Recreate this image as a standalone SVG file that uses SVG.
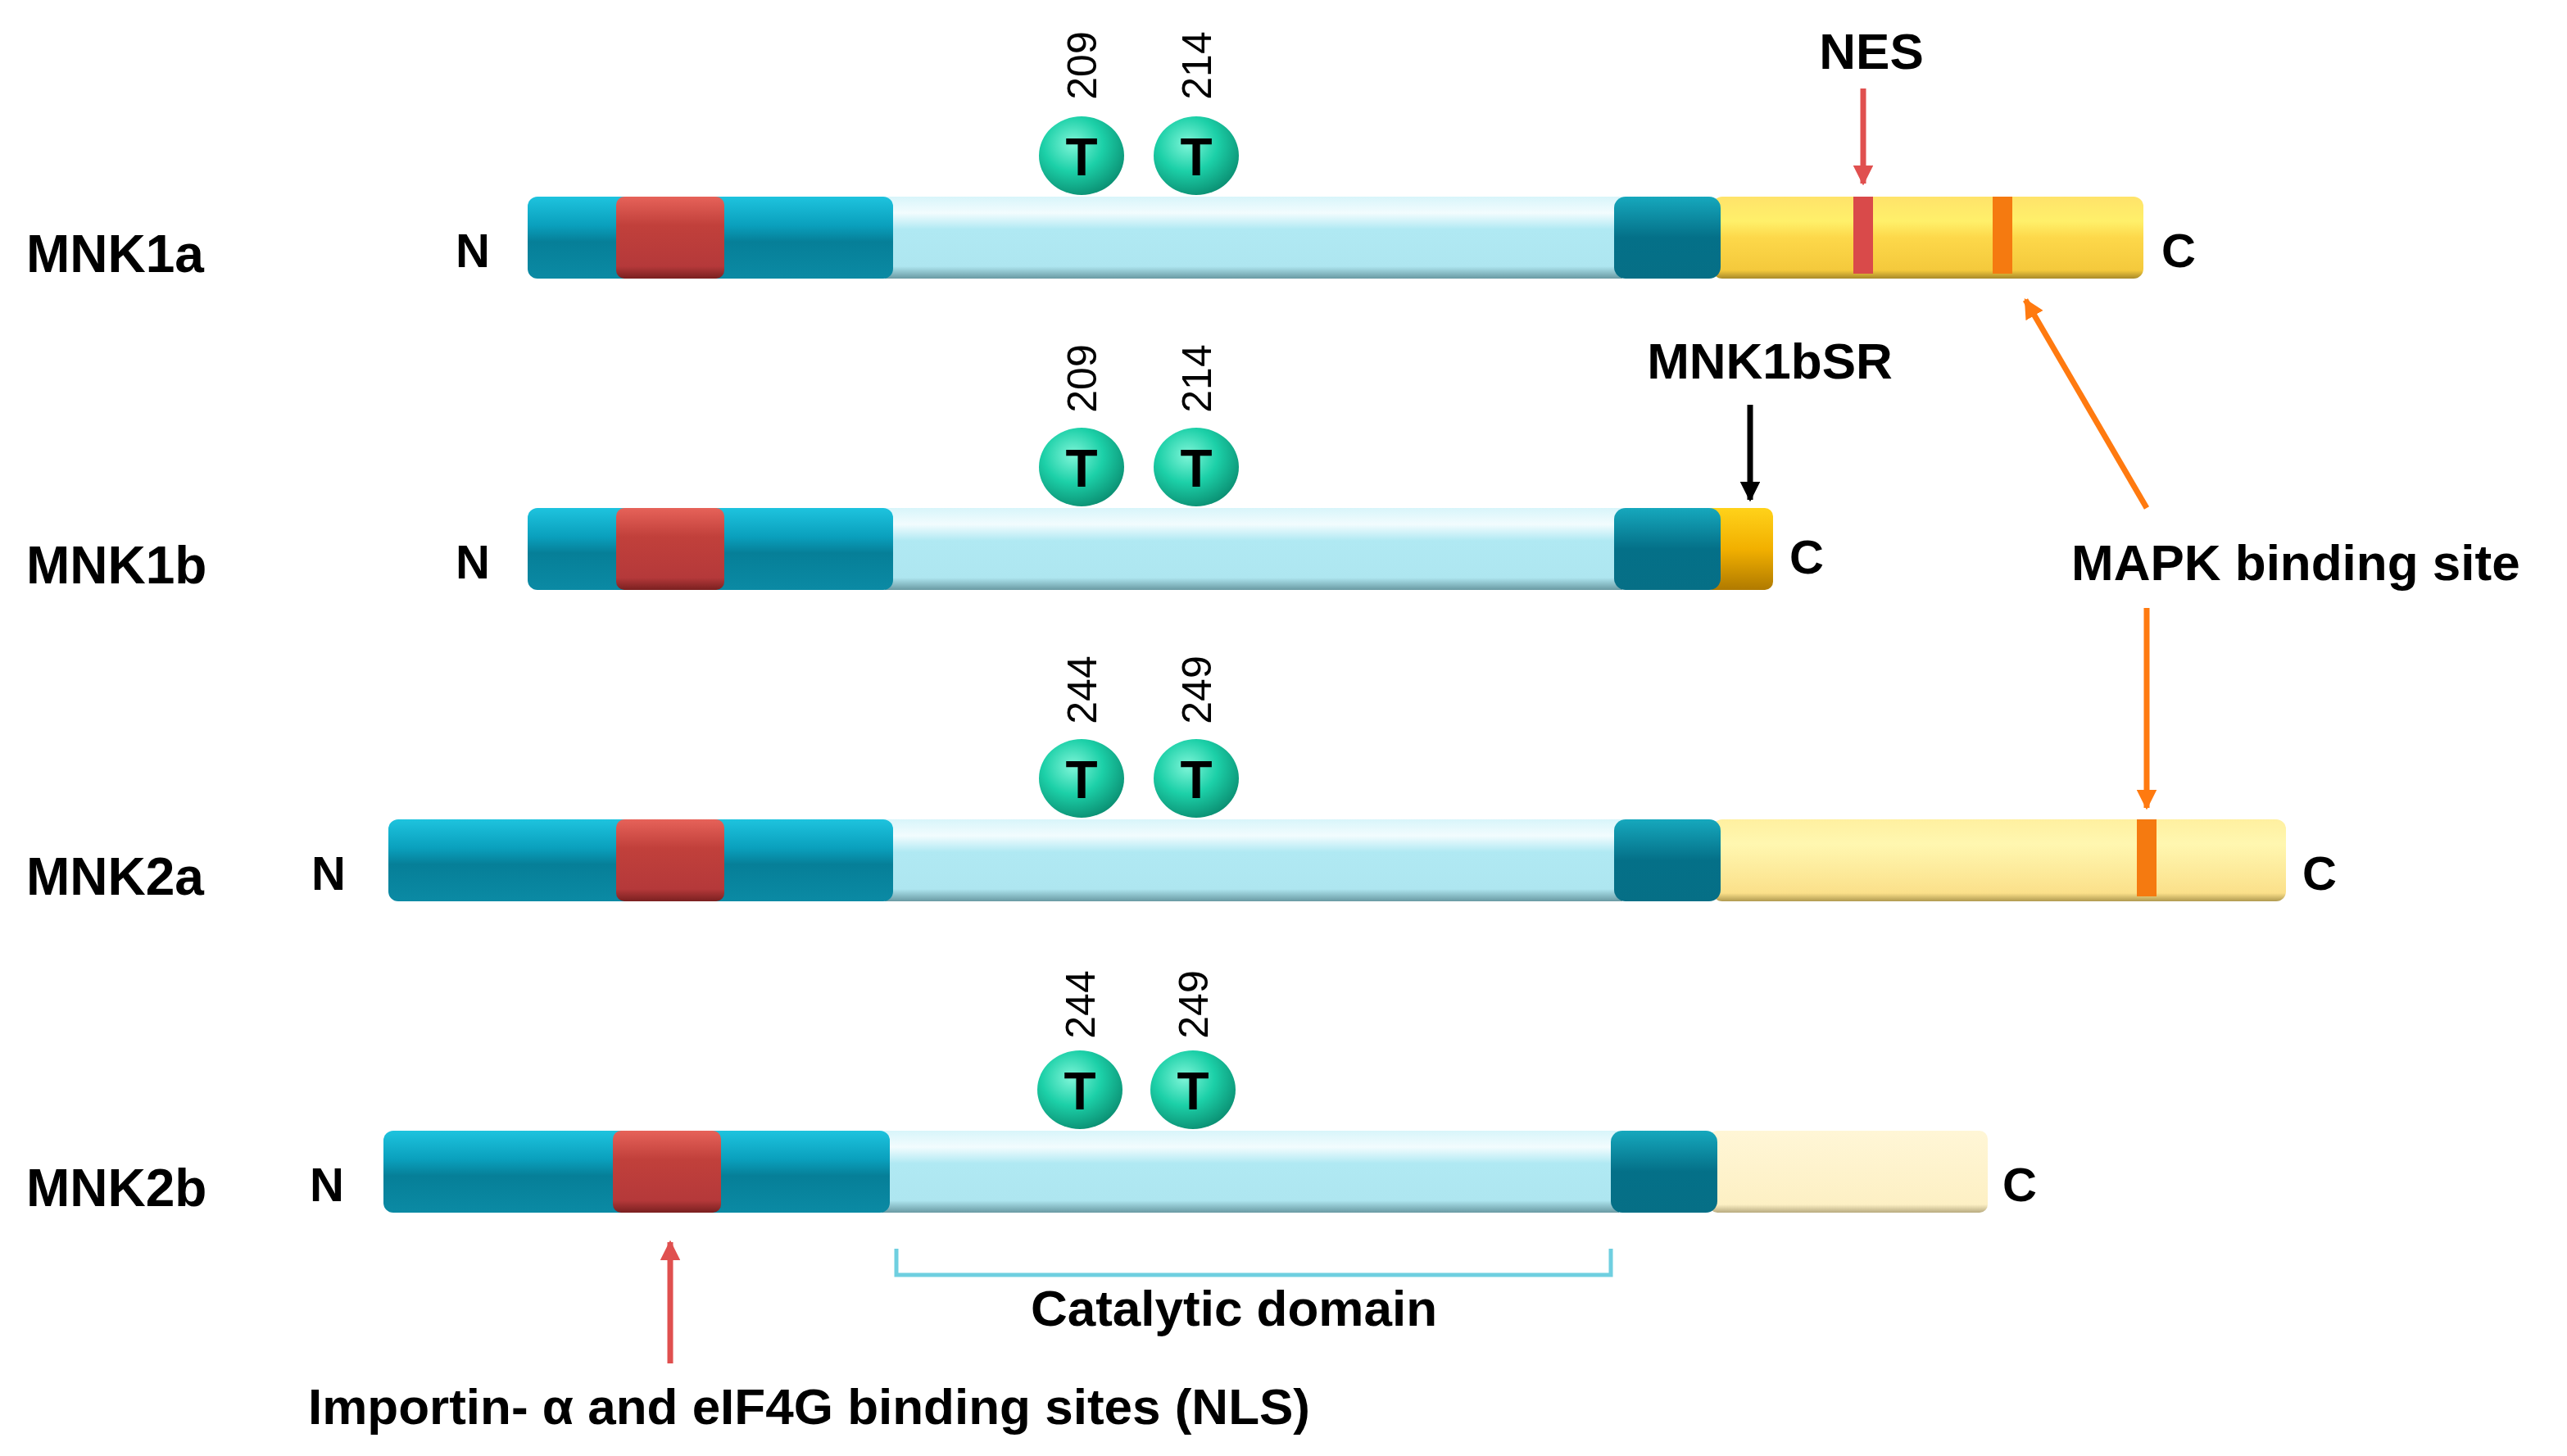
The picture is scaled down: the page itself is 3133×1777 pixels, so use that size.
<svg xmlns="http://www.w3.org/2000/svg" width="3133" height="1777" viewBox="0 0 3133 1777">
<defs>
<linearGradient id="gDark" x1="0" y1="0" x2="0" y2="1"><stop offset="0" stop-color="#1ec3de"/><stop offset="0.35" stop-color="#0aa0bd"/><stop offset="0.55" stop-color="#067f98"/><stop offset="1" stop-color="#0b8aa4"/></linearGradient>
<linearGradient id="gDark2" x1="0" y1="0" x2="0" y2="1"><stop offset="0" stop-color="#16a8bd"/><stop offset="0.5" stop-color="#047088"/><stop offset="1" stop-color="#066f86"/></linearGradient>
<linearGradient id="gLight" x1="0" y1="0" x2="0" y2="1"><stop offset="0" stop-color="#d8f5fa"/><stop offset="0.2" stop-color="#f2fcfe"/><stop offset="0.4" stop-color="#b0e9f3"/><stop offset="0.85" stop-color="#aee6f0"/><stop offset="1" stop-color="#6a9aa3"/></linearGradient>
<linearGradient id="gRed" x1="0" y1="0" x2="0" y2="1"><stop offset="0" stop-color="#e66259"/><stop offset="0.35" stop-color="#c1403b"/><stop offset="0.85" stop-color="#b5393a"/><stop offset="1" stop-color="#7a2020"/></linearGradient>
<linearGradient id="gYel" x1="0" y1="0" x2="0" y2="1"><stop offset="0" stop-color="#ffe36a"/><stop offset="0.3" stop-color="#fff06a"/><stop offset="0.5" stop-color="#fdd84a"/><stop offset="0.9" stop-color="#f4c93c"/><stop offset="1" stop-color="#a88a2a"/></linearGradient>
<linearGradient id="gYel2" x1="0" y1="0" x2="0" y2="1"><stop offset="0" stop-color="#fff0a0"/><stop offset="0.3" stop-color="#fff7b0"/><stop offset="0.9" stop-color="#fbe08a"/><stop offset="1" stop-color="#b09a50"/></linearGradient>
<linearGradient id="gYel3" x1="0" y1="0" x2="0" y2="1"><stop offset="0" stop-color="#fff6d6"/><stop offset="0.9" stop-color="#fdf0c4"/><stop offset="1" stop-color="#b8ab80"/></linearGradient>
<linearGradient id="gOr" x1="0" y1="0" x2="0" y2="1"><stop offset="0" stop-color="#ffd21a"/><stop offset="0.5" stop-color="#f2b000"/><stop offset="1" stop-color="#b07a00"/></linearGradient>
<radialGradient id="gT" cx="0.4" cy="0.35" r="0.7"><stop offset="0" stop-color="#7ff5d8"/><stop offset="0.5" stop-color="#1cd0a8"/><stop offset="1" stop-color="#0a8c70"/></radialGradient>
<marker id="ar" viewBox="0 0 10 10" refX="9" refY="5" markerWidth="3.5" markerHeight="3.5" orient="auto"><path d="M0,0 L10,5 L0,10 z" fill="context-stroke"/></marker>
<marker id="arR" viewBox="0 0 10 10" refX="9" refY="5" markerWidth="3.5" markerHeight="3.5" orient="auto"><path d="M0,0 L10,5 L0,10 z" fill="#e0504f"/></marker>
<marker id="arO" viewBox="0 0 10 10" refX="9" refY="5" markerWidth="3.5" markerHeight="3.5" orient="auto"><path d="M0,0 L10,5 L0,10 z" fill="#ff7a10"/></marker>
<marker id="arK" viewBox="0 0 10 10" refX="9" refY="5" markerWidth="3.5" markerHeight="3.5" orient="auto"><path d="M0,0 L10,5 L0,10 z" fill="#000"/></marker>
</defs>
<style>
text{font-family:"Liberation Sans",Arial,sans-serif;fill:#000}
.lab{font-size:64px;font-weight:bold}
.nc{font-size:58px;font-weight:bold}
.num{font-size:50px}
.tt{font-size:64px;font-weight:bold;text-anchor:middle}
.big{font-size:62px;font-weight:bold}
.d{fill:url(#gDark)}
.d2{fill:url(#gDark2)}
.l{fill:url(#gLight)}
.r{fill:url(#gRed)}
.tc{fill:url(#gT)}
</style>

<g id="mnk1a">
<text class="lab" x="32" y="332">MNK1a</text>
<text class="nc" x="556" y="326">N</text>
<rect class="l" x="1080" y="240" width="900" height="100"/>
<rect class="d" x="644" y="240" width="446" height="100" rx="12"/>
<rect class="r" x="752" y="240" width="132" height="100" rx="10"/>
<rect fill="url(#gYel)" x="2090" y="240" width="526" height="100" rx="12"/>
<rect class="d2" x="1970" y="240" width="130" height="100" rx="14"/>
<rect fill="#d94a4a" x="2262" y="240" width="24" height="94"/>
<rect fill="#f57a10" x="2432" y="240" width="24" height="94"/>
<text class="nc" x="2638" y="326">C</text>
<ellipse class="tc" cx="1320" cy="190" rx="52" ry="48"/><text class="tt" x="1320" y="214">T</text>
<ellipse class="tc" cx="1460" cy="190" rx="52" ry="48"/><text class="tt" x="1460" y="214">T</text>
<text class="num" transform="translate(1338,80) rotate(-90)" text-anchor="middle">209</text>
<text class="num" transform="translate(1478,80) rotate(-90)" text-anchor="middle">214</text>
</g>

<g id="mnk1b">
<text class="lab" x="32" y="712">MNK1b</text>
<text class="nc" x="556" y="706">N</text>
<rect class="l" x="1080" y="620" width="900" height="100"/>
<rect class="d" x="644" y="620" width="446" height="100" rx="12"/>
<rect class="r" x="752" y="620" width="132" height="100" rx="10"/>
<rect fill="url(#gOr)" x="2080" y="620" width="84" height="100" rx="10"/>
<rect class="d2" x="1970" y="620" width="130" height="100" rx="14"/>
<text class="nc" x="2184" y="700">C</text>
<ellipse class="tc" cx="1320" cy="570" rx="52" ry="48"/><text class="tt" x="1320" y="594">T</text>
<ellipse class="tc" cx="1460" cy="570" rx="52" ry="48"/><text class="tt" x="1460" y="594">T</text>
<text class="num" transform="translate(1338,462) rotate(-90)" text-anchor="middle">209</text>
<text class="num" transform="translate(1478,462) rotate(-90)" text-anchor="middle">214</text>
</g>

<g id="mnk2a">
<text class="lab" x="32" y="1092">MNK2a</text>
<text class="nc" x="380" y="1086">N</text>
<rect class="l" x="1080" y="1000" width="900" height="100"/>
<rect class="d" x="474" y="1000" width="616" height="100" rx="12"/>
<rect class="r" x="752" y="1000" width="132" height="100" rx="10"/>
<rect fill="url(#gYel2)" x="2090" y="1000" width="700" height="100" rx="12"/>
<rect class="d2" x="1970" y="1000" width="130" height="100" rx="14"/>
<rect fill="#f57a10" x="2608" y="1000" width="24" height="94"/>
<text class="nc" x="2810" y="1086">C</text>
<ellipse class="tc" cx="1320" cy="950" rx="52" ry="48"/><text class="tt" x="1320" y="974">T</text>
<ellipse class="tc" cx="1460" cy="950" rx="52" ry="48"/><text class="tt" x="1460" y="974">T</text>
<text class="num" transform="translate(1338,842) rotate(-90)" text-anchor="middle">244</text>
<text class="num" transform="translate(1478,842) rotate(-90)" text-anchor="middle">249</text>
</g>

<g id="mnk2b">
<text class="lab" x="32" y="1472">MNK2b</text>
<text class="nc" x="378" y="1466">N</text>
<rect class="l" x="1076" y="1380" width="900" height="100"/>
<rect class="d" x="468" y="1380" width="618" height="100" rx="12"/>
<rect class="r" x="748" y="1380" width="132" height="100" rx="10"/>
<rect fill="url(#gYel3)" x="2086" y="1380" width="340" height="100" rx="10"/>
<rect class="d2" x="1966" y="1380" width="130" height="100" rx="14"/>
<text class="nc" x="2444" y="1466">C</text>
<ellipse class="tc" cx="1318" cy="1330" rx="52" ry="48"/><text class="tt" x="1318" y="1354">T</text>
<ellipse class="tc" cx="1456" cy="1330" rx="52" ry="48"/><text class="tt" x="1456" y="1354">T</text>
<text class="num" transform="translate(1336,1226) rotate(-90)" text-anchor="middle">244</text>
<text class="num" transform="translate(1474,1226) rotate(-90)" text-anchor="middle">249</text>
</g>

<g id="labels">
<text class="big" x="2284" y="84" text-anchor="middle">NES</text>
<text class="big" x="2160" y="462" text-anchor="middle">MNK1bSR</text>
<text class="big" x="2528" y="708">MAPK binding site</text>
<text class="big" x="1506" y="1618" text-anchor="middle">Catalytic domain</text>
<text class="big" x="376" y="1738">Importin- α and eIF4G binding sites (NLS)</text>
</g>

<g id="connectors" fill="none" stroke-width="7">
<line x1="2274" y1="108" x2="2274" y2="224" stroke="#e0504f" marker-end="url(#arR)"/>
<line x1="2136" y1="494" x2="2136" y2="610" stroke="#000" marker-end="url(#arK)"/>
<line x1="2620" y1="620" x2="2472" y2="366" stroke="#ff7a10" marker-end="url(#arO)"/>
<line x1="2620" y1="742" x2="2620" y2="986" stroke="#ff7a10" marker-end="url(#arO)"/>
<line x1="818" y1="1664" x2="818" y2="1516" stroke="#e0504f" marker-end="url(#arR)"/>
<path d="M1094,1524 V1556 H1966 V1524" stroke="#6fcfe0" stroke-width="5"/>
</g>
</svg>
